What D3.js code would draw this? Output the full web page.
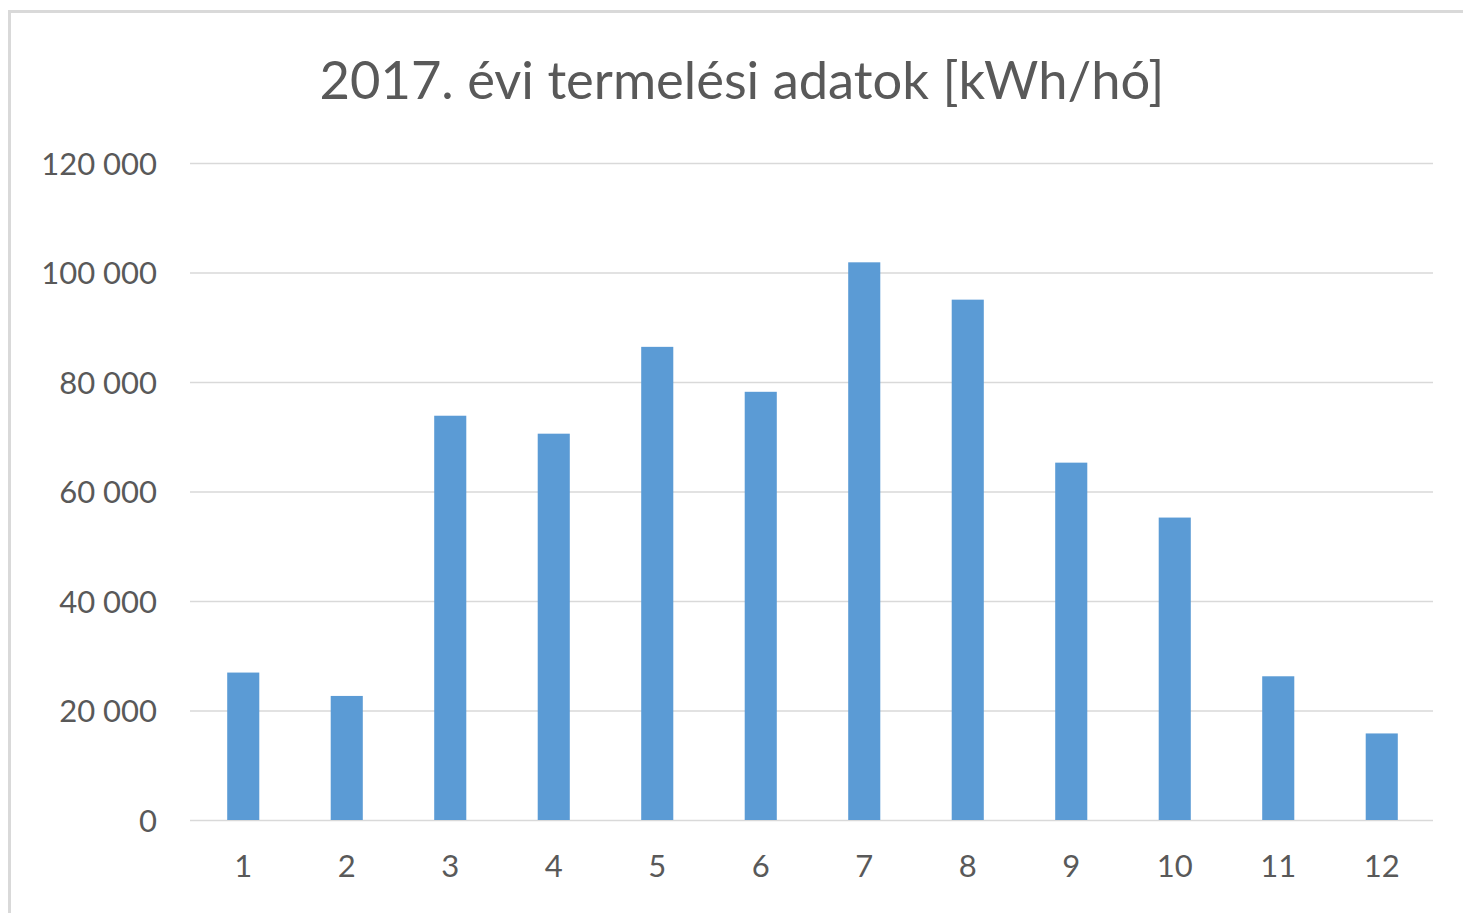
<!DOCTYPE html>
<html><head><meta charset="utf-8">
<script src="https://cdn.jsdelivr.net/npm/d3@7"></script>
<style>html,body{margin:0;padding:0;background:#fff;overflow:hidden}</style>
</head><body>
<svg id="c" width="1463" height="913"></svg>
<script>
const title = "2017. évi termelési adatok [kWh/hó]";
const months = ["1","2","3","4","5","6","7","8","9","10","11","12"];
const values = [26930, 22660, 73840, 70560, 86420, 78210, 101860, 95040, 65270, 55240, 26250, 15810];
const yTicks = [0, 20000, 40000, 60000, 80000, 100000, 120000];

(function () {
const svg = d3.select("#c");
const font = "Lato, 'Open Sans', sans-serif";
const textColor = "#595959";

svg.append("rect").attr("x", 9.5).attr("y", 11.5).attr("width", 1470).attr("height", 920)
  .attr("fill", "#fff").attr("stroke", "#d9d9d9").attr("stroke-width", 3);

const pL = 190, pR = 1433, pT = 163, pB = 820;
const x = d3.scaleBand().domain(months).range([pL + 1.5, pR + 0.5]).paddingInner(0.69).paddingOuter(0.345);
const y = d3.scaleLinear().domain([0, 120000]).range([pB, pT]);

const yAxis = svg.append("g").attr("transform", `translate(${pL},0)`)
  .call(d3.axisLeft(y).tickValues(yTicks).tickSize(-(pR - pL)).tickPadding(33)
    .tickFormat(v => d3.format(",")(v).replace(/,/g, " ")));
yAxis.select(".domain").remove();
yAxis.selectAll(".tick line").attr("stroke", "#d9d9d9").attr("stroke-width", 1.5);
yAxis.selectAll(".tick text").attr("fill", textColor).attr("y", 1.5)
  .style("font-family", font).style("font-size", "31px");

svg.append("g").selectAll("rect").data(values).join("rect")
  .attr("x", (d, i) => x(months[i]))
  .attr("y", d => y(d))
  .attr("width", x.bandwidth())
  .attr("height", d => y(0) - y(d))
  .attr("fill", "#5b9bd5");

const xAxis = svg.append("g").attr("transform", `translate(0,${pB})`)
  .call(d3.axisBottom(x).tickSize(0).tickPadding(35));
xAxis.select(".domain").remove();
xAxis.selectAll(".tick text").attr("fill", textColor).style("font-family", font).style("font-size", "31px");

const t = svg.append("text").attr("x", 742).attr("y", 99).attr("text-anchor", "middle")
  .attr("fill", textColor).style("font-family", font).style("font-size", "48px").text(title);
const w = t.node().getComputedTextLength();
t.style("font-size", (48 * 845 / w) + "px");
})();
</script>
</body></html>
